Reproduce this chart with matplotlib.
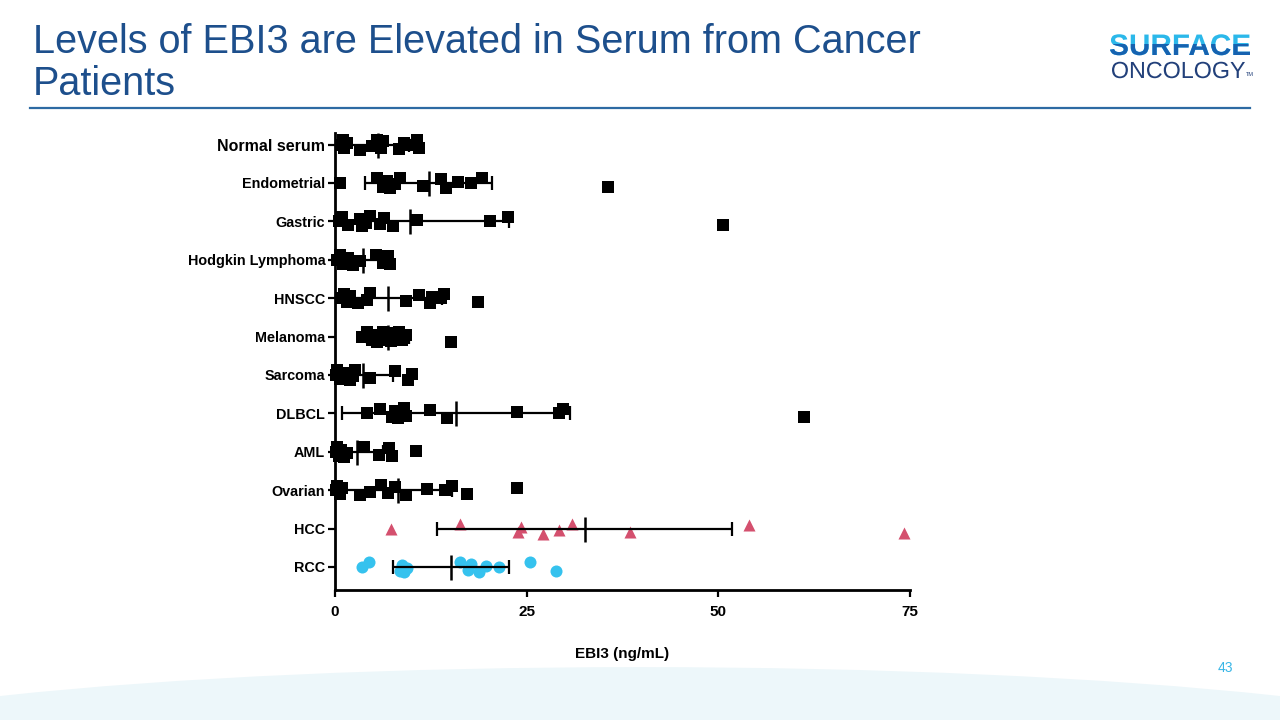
import matplotlib
matplotlib.use('Agg')
import matplotlib.pyplot as plt
import numpy as np
from matplotlib.patches import Ellipse, Rectangle, PathPatch
from matplotlib.textpath import TextPath
from matplotlib.font_manager import FontProperties
from matplotlib.transforms import Affine2D

plt.rcParams['font.family'] = ['Liberation Sans', 'DejaVu Sans']

# groups, top to bottom
categories = ['Normal serum', 'Endometrial', 'Gastric', 'Hodgkin Lymphoma', 'HNSCC',
              'Melanoma', 'Sarcoma', 'DLBCL', 'AML', 'Ovarian', 'HCC', 'RCC']

normal_serum = [0.8, 1.0, 1.2, 1.5, 3.2, 4.8, 5.5, 6.0, 6.3, 8.4, 9.0, 9.4, 10.7, 10.9]
endometrial = [0.6, 5.5, 6.2, 6.8, 7.2, 7.8, 8.5, 11.5, 13.8, 14.5, 16.0, 17.8, 19.2, 35.6]
gastric = [0.5, 0.9, 1.7, 3.2, 3.5, 4.0, 4.6, 5.9, 6.4, 7.6, 10.7, 20.2, 22.5, 50.6]
hodgkin = [0.2, 0.6, 1.0, 1.7, 2.4, 3.2, 5.4, 6.3, 6.9, 7.2]
hnscc = [0.8, 1.2, 1.6, 2.0, 3.0, 4.2, 4.5, 9.2, 10.9, 12.4, 12.7, 13.8, 14.2, 18.7]
melanoma = [3.5, 4.2, 4.8, 5.0, 5.5, 5.8, 6.2, 6.6, 7.0, 7.3, 7.6, 8.0, 8.3, 8.8, 9.2, 15.1]
sarcoma = [0.1, 0.3, 0.6, 1.0, 2.0, 2.3, 2.6, 4.5, 7.8, 9.5, 10.0]
dlbcl = [4.2, 5.9, 7.4, 7.8, 8.2, 8.6, 9.0, 9.3, 12.4, 14.6, 23.8, 29.2, 29.8, 61.2]
aml = [0.1, 0.3, 0.5, 0.8, 1.2, 1.5, 3.8, 5.8, 7.1, 7.4, 10.6]
ovarian = [0.1, 0.3, 0.6, 0.9, 3.2, 4.6, 6.0, 6.9, 7.8, 9.3, 12.0, 14.4, 15.3, 17.2, 23.7]
hcc = [7.3, 16.3, 23.9, 24.3, 27.1, 29.2, 30.9, 38.5, 54.0, 74.2]
rcc = [3.5, 4.4, 8.5, 8.8, 9.0, 9.4, 16.3, 17.4, 17.8, 18.8, 19.7, 21.4, 25.4, 28.8]

groups = [normal_serum, endometrial, gastric, hodgkin, hnscc, melanoma,
          sarcoma, dlbcl, aml, ovarian, hcc, rcc]

# mean and whisker ends as drawn (mean +/- SD)
bar_mean = [5.6, 12.3, 9.8, 3.6, 6.9, 6.9, 3.6, 15.8, 2.9, 8.2, 32.6, 15.1]
bar_low = [1.6, 3.9, -3.2, 0.7, -0.2, 4.2, -0.2, 0.9, -0.5, -0.5, 13.3, 7.6]
bar_high = [9.6, 20.5, 22.7, 6.5, 13.9, 9.6, 7.5, 30.6, 6.3, 15.3, 51.8, 22.7]

x_ticks = [0, 25, 50, 75]

navy = '#1d4f8c'
hcc_color = '#d4506e'
rcc_color = '#35c2ee'

fig = plt.figure(figsize=(12.8, 7.2), dpi=100)

# slide background, in pixel coords
bg = fig.add_axes([0, 0, 1, 1], zorder=-1)
bg.set_xlim(0, 1280)
bg.set_ylim(720, 0)
bg.axis('off')
bg.add_patch(Ellipse((640, 764.6), 1800, 195, color='#edf7fa', lw=0))
bg.plot([30, 1250], [108, 108], color='#2d6aa3', lw=1.6)

fig.text(33 / 1280, 1 - 23 / 720, 'Levels of EBI3 are Elevated in Serum from Cancer\nPatients',
         color=navy, fontsize=28.5, va='top', ha='left', linespacing=1.12)

# logo: two-tone SURFACE
fp_bold = FontProperties(family='Liberation Sans', weight='bold')
tp = TextPath((0, 0), 'SURFACE', size=1, prop=fp_bold)
ext = tp.get_extents()
sc = 140 / ext.width
tr = Affine2D().scale(sc, -sc).translate(1110 - ext.x0 * sc, 55) + bg.transData
bg.add_patch(PathPatch(tp, transform=tr, color='#2bb8ea', lw=0))
dark = PathPatch(tp, transform=tr, color='#1662b0', lw=0)
bg.add_patch(dark)
cut = Rectangle((1100, 44), 160, 20, transform=bg.transData, visible=False)
bg.add_patch(cut)
dark.set_clip_path(cut)

fp_reg = FontProperties(family='Liberation Sans')
tp2 = TextPath((0, 0), 'ONCOLOGY', size=1, prop=fp_reg)
ext2 = tp2.get_extents()
sc2 = 133 / ext2.width
tr2 = Affine2D().scale(sc2, -sc2).translate(1112 - ext2.x0 * sc2, 78) + bg.transData
bg.add_patch(PathPatch(tp2, transform=tr2, color='#22407a', lw=0))
bg.text(1246, 77, 'TM', color='#22407a', fontsize=4, ha='left', va='bottom')

fig.text(1225 / 1280, 1 - 668 / 720, '43', color='#38b6e6', fontsize=10,
         ha='center', va='center')

ax = fig.add_axes([335 / 1280, 1 - 590 / 720, 575 / 1280, 457 / 720])

jitter = [0, -0.12, 0.1, -0.05, 0.13, 0.04, -0.13, 0.08, -0.09, 0.12, -0.03]

for i, vals in enumerate(groups):
    ys = [i + jitter[k % len(jitter)] for k in range(len(vals))]
    if categories[i] == 'HCC':
        ax.scatter(vals, ys, marker='^', s=75, color=hcc_color, lw=0, zorder=3, clip_on=False)
    elif categories[i] == 'RCC':
        ax.scatter(vals, ys, marker='o', s=75, color=rcc_color, lw=0, zorder=3, clip_on=False)
    else:
        ax.scatter(vals, ys, marker='s', s=65, color='black', lw=0, zorder=3, clip_on=False)

for i in range(len(categories)):
    m = bar_mean[i]
    ax.errorbar([m], [i], xerr=[[m - bar_low[i]], [bar_high[i] - m]], fmt='none',
                ecolor='black', elinewidth=1.6, capsize=5, capthick=1.6, zorder=4)
    ax.plot([m], [i], marker='|', markersize=18, mew=1.8, color='black', zorder=4)

ax.set_xlim(0, 75)
ax.set_ylim(11.6, -0.3)
ax.set_xticks(x_ticks)
ax.set_xticklabels([str(v) for v in x_ticks], fontweight='bold', fontsize=11)
ax.set_yticks(range(len(categories)))
ax.set_yticklabels(categories, fontweight='bold', fontsize=10.4)
ax.get_yticklabels()[0].set_fontsize(11.5)
ax.tick_params(axis='both', width=1.6, length=5, pad=2)
ax.tick_params(axis='x', pad=6)
ax.spines['top'].set_visible(False)
ax.spines['right'].set_visible(False)
ax.spines['left'].set_linewidth(2)
ax.spines['bottom'].set_linewidth(2)
ax.set_xlabel('EBI3 (ng/mL)', fontweight='bold', fontsize=11)
ax.xaxis.set_label_coords(0.5, -0.125)
ax.patch.set_alpha(0)

fig.savefig('out.png', dpi=100)
